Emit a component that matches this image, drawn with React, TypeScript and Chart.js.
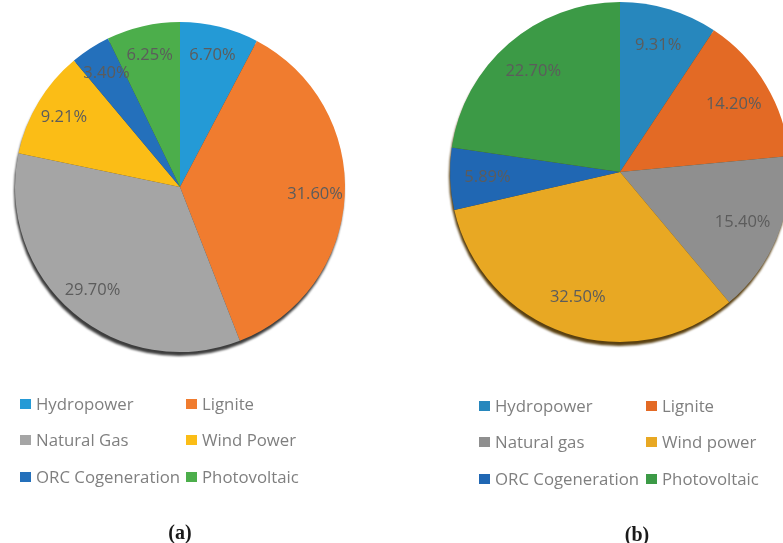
import React, { useEffect, useRef } from "react";
import { Chart, registerables } from "chart.js";
Chart.register(...registerables);

const labelsA = ["Hydropower", "Lignite", "Natural Gas", "Wind Power", "ORC Cogeneration", "Photovoltaic"];
const valuesA = [6.7, 31.6, 29.7, 9.21, 3.4, 6.25];
const colorsA = ["#249AD6", "#F07C2F", "#A5A5A5", "#FBBD16", "#2470BB", "#4CAE4B"];
const captionA = "(a)";

const labelsB = ["Hydropower", "Lignite", "Natural gas", "Wind power", "ORC Cogeneration", "Photovoltaic"];
const valuesB = [9.31, 14.2, 15.4, 32.5, 5.89, 22.7];
const colorsB = ["#2787BD", "#E36A25", "#8F8F8F", "#E8A823", "#2067B3", "#3C9A46"];
const captionB = "(b)";

const pieExtras = {
  id: "pieExtras",
  beforeDatasetsDraw(chart: any, _a: any, opts: any) {
    const el = chart.getDatasetMeta(0).data[0];
    if (!el) return;
    const { x, y, outerRadius } = el.getProps(["x", "y", "outerRadius"], true);
    const ctx = chart.ctx;
    ctx.save();
    ctx.fillStyle = opts.shadowColor;
    ctx.filter = "blur(1px)";
    ctx.beginPath();
    ctx.arc(x - 1, y + 4, outerRadius, 0, Math.PI * 2);
    ctx.fill();
    ctx.restore();
  },
  afterDatasetsDraw(chart: any, _a: any, opts: any) {
    const ctx = chart.ctx;
    const ds = chart.data.datasets[0];
    ctx.save();
    ctx.font = '16.5px "Open Sans"';
    ctx.fillStyle = "#5c5c5c";
    ctx.textAlign = "center";
    ctx.textBaseline = "middle";
    chart.getDatasetMeta(0).data.forEach((arc: any, i: number) => {
      const p = arc.getProps(["x", "y", "startAngle", "endAngle", "outerRadius"], true);
      const mid = (p.startAngle + p.endAngle) / 2;
      const r = p.outerRadius * opts.labelFrac;
      ctx.fillText(Number(ds.data[i]).toFixed(2) + "%", p.x + Math.cos(mid) * r, p.y + Math.sin(mid) * r);
    });
    ctx.restore();
  },
  afterDraw(chart: any, _a: any, opts: any) {
    const ctx = chart.ctx;
    const ds = chart.data.datasets[0];
    const labels = chart.data.labels;
    ctx.save();
    ctx.font = '16.8px "Open Sans"';
    ctx.textBaseline = "middle";
    ctx.textAlign = "left";
    labels.forEach((lab: string, i: number) => {
      const col = i % 2;
      const row = Math.floor(i / 2);
      const sx = opts.legendX[col];
      const sy = opts.legendY[row];
      ctx.fillStyle = ds.backgroundColor[i];
      ctx.fillRect(sx, sy - 5, 11, 10);
      ctx.fillStyle = "#7f7f7f";
      ctx.fillText(lab, sx + 16, sy + 1);
    });
    ctx.font = 'bold 20px "Liberation Serif"';
    ctx.fillStyle = "#1a1a1a";
    ctx.textAlign = "center";
    ctx.fillText(opts.caption, opts.captionX, opts.captionY);
    ctx.restore();
  },
};

function PieBox(props: {
  labels: string[]; values: number[]; colors: string[]; caption: string;
  left: number; width: number; padding: any; labelFrac: number;
  legendX: number[]; legendY: number[]; captionX: number; captionY: number; shadowColor: string;
}) {
  const ref = useRef<HTMLCanvasElement>(null);
  useEffect(() => {
    const chart = new Chart(ref.current as HTMLCanvasElement, {
      type: "pie",
      data: {
        labels: props.labels,
        datasets: [{ data: props.values, backgroundColor: props.colors, borderWidth: 0 }],
      },
      options: {
        animation: false,
        responsive: false,
        layout: { padding: props.padding },
        plugins: {
          legend: { display: false },
          tooltip: { enabled: false },
          pieExtras: {
            labelFrac: props.labelFrac,
            legendX: props.legendX,
            legendY: props.legendY,
            caption: props.caption,
            captionX: props.captionX,
            captionY: props.captionY,
            shadowColor: props.shadowColor,
          },
        } as any,
      },
      plugins: [pieExtras],
    });
    return () => chart.destroy();
  }, []);
  return (
    <canvas
      ref={ref}
      width={props.width}
      height={543}
      style={{ position: "absolute", left: props.left, top: 0, width: props.width, height: 543 }}
    />
  );
}

export default function App() {
  return (
    <div style={{ position: "fixed", left: 0, top: 0, width: 783, height: 543, overflow: "hidden", background: "#fff" }}>
      <PieBox
        labels={labelsA} values={valuesA} colors={colorsA} caption={captionA}
        left={0} width={360}
        padding={{ left: 15, right: 15, top: 22, bottom: 191 }}
        labelFrac={0.82}
        legendX={[20, 186]} legendY={[404, 440, 477]}
        captionX={180} captionY={534}
        shadowColor="#3d3d3d"
      />
      <PieBox
        labels={labelsB} values={valuesB} colors={colorsB} caption={captionB}
        left={420} width={400}
        padding={{ left: 30, right: 30, top: 2, bottom: 201 }}
        labelFrac={0.78}
        legendX={[59, 226]} legendY={[406, 442, 479]}
        captionX={217} captionY={536}
        shadowColor="#5a4010"
      />
    </div>
  );
}
